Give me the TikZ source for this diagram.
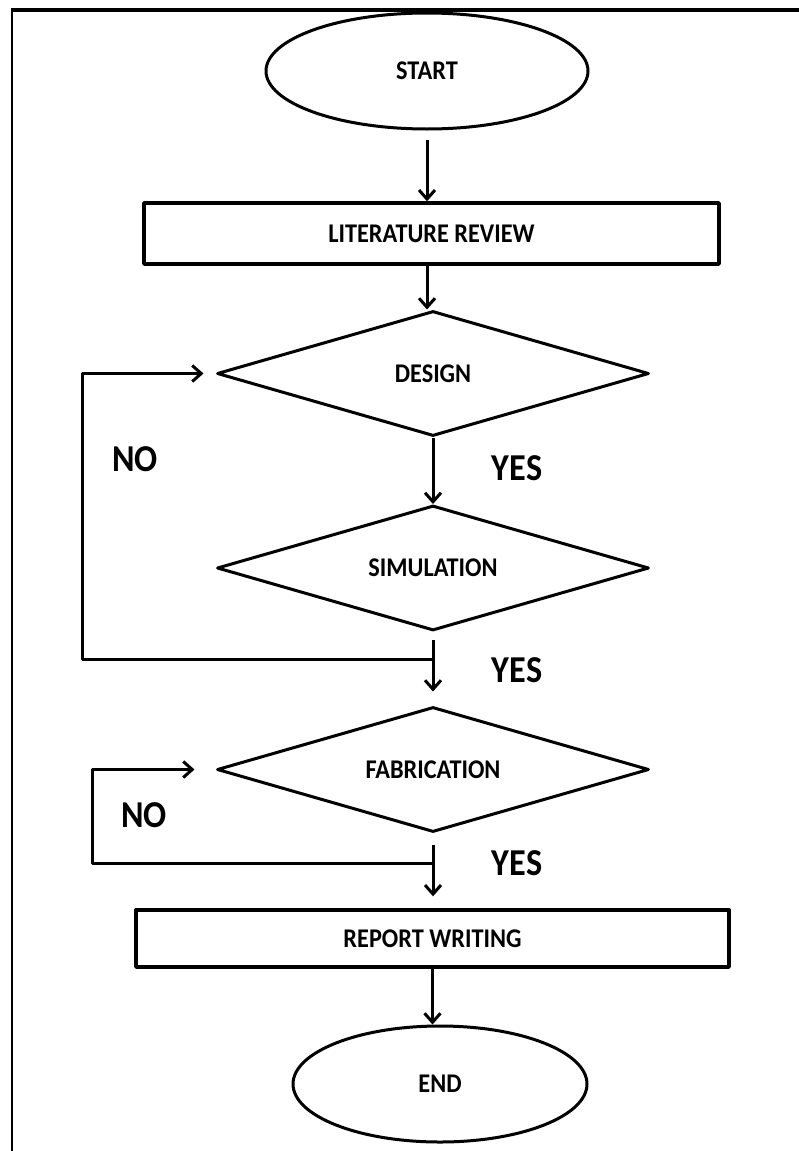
\documentclass[tikz,border=0pt]{standalone}
\usepackage{fontspec}
\newfontfamily\flowfont[FakeStretch=0.9]{Carlito}
\usetikzlibrary{shapes.geometric,arrows.meta}
\tikzset{
    term/.style={ellipse,draw,inner sep=0pt,font=\flowfont\bfseries\fontsize{27}{30}\selectfont},
    procbox/.style={rectangle,draw,inner sep=0pt,line width=3.4pt,font=\flowfont\bfseries\fontsize{27}{30}\selectfont},
    decide/.style={diamond,draw,aspect=3.5,inner sep=0pt,minimum width=432pt,minimum height=125pt,font=\flowfont\bfseries\fontsize{27}{30}\selectfont},
    answer/.style={font=\flowfont\bfseries\fontsize{38}{40}\selectfont}
}
\begin{document}
\begin{tikzpicture}[>={Straight Barb[length=9pt,width=16pt]},x=1pt,y=-1pt,line width=3pt, line join=round]
            \useasboundingbox (0,0) rectangle (799,1151);
            % frame
            \draw[line width=2pt] (12,1151)--(12,10);
            \draw[line width=3.5pt] (11,10)--(799,10);
            \node[term,minimum width=322pt,minimum height=116pt] (start) at (427,71) {START};
            \node[procbox,minimum width=575pt,minimum height=61pt] (litrev) at (431.5,233.5) {LITERATURE REVIEW};
            \node[decide] (design) at (433,373.5) {DESIGN};
            \node[decide] (sim) at (433,568) {SIMULATION};
            \node[decide] (fab) at (433,769.5) {FABRICATION};
            \node[procbox,minimum width=593pt,minimum height=57pt] (report) at (432.5,938.5) {REPORT WRITING};
            \node[term,minimum width=294pt,minimum height=116pt] (stop) at (440,1084) {END};
            \node[answer] (yes1) at (517,468) {YES};
            \node[answer] (no1) at (135,459) {NO};
            \node[answer] (yes2) at (517,670) {YES};
            \node[answer] (no2) at (144,815) {NO};
            \node[answer] (yes3) at (517,863) {YES};
            \coordinate (nobend1) at (82,659);
            \coordinate (nobend2) at (92,863);
            \draw[->,shorten <=9pt] (start.south)--(start.south |- litrev.north);
            \draw[->] (litrev.south -| start.south)--(start.south |- design.north);
            \draw[->] (design)--(sim);
            \draw[->,shorten <=8pt,shorten >=14pt] (sim)--(fab);
            \draw[->,shorten >=12pt] (sim.south |- nobend1)--(nobend1) |- (design.west);
            \draw[->,shorten <=11pt,shorten >=12pt] (fab)--(fab |- report.north);
            \draw[->,shorten >=21pt] (fab.south |- nobend2)--(nobend2) |- (fab.west);
            \draw[->] (report.south)--(report.south |- stop.north);
        \end{tikzpicture}
\end{document}
